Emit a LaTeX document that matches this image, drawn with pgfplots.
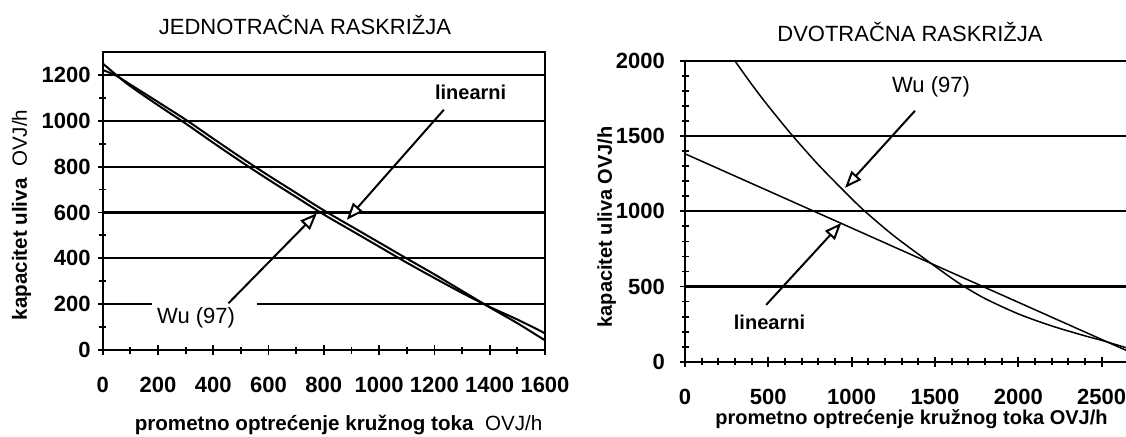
\documentclass[border=0pt]{standalone}
\usepackage{pgfplots}
\pgfplotsset{compat=1.18}
\usepackage{fontspec}
\setmainfont{Liberation Sans}
\usetikzlibrary{arrows.meta}
\newcommand\tlf{\fontsize{11}{12}\selectfont\bfseries}
\pgfplotsset{
 mystyle/.style={
  scale only axis, anchor=south west, enlargelimits=false,
  axis line style={black, line width=1.1pt},
  ymajorgrids, major grid style={black, line width=1.1pt},
  tick align=center, tick style={black, line width=0.9pt},
  major tick length=5pt, minor tick length=3.5pt,
  tick pos=left,
  ticklabel style={font=\tlf},
  xticklabel style={anchor=center, yshift=-15pt},
  /pgf/number format/assume math mode=true,
  /pgf/number format/set thousands separator={},
 },
 curve/.style={black, line width=1pt, smooth, tension=0.5},
}
\tikzset{arr/.style={black, line width=1pt, -{Triangle[fill=white, length=8.5pt, width=6.5pt]}}}
\begin{document}
\begin{tikzpicture}
\useasboundingbox (0,0) rectangle (563pt,218pt);
% ---------- left ----------
\begin{axis}[mystyle, at={(51.35pt,43pt)}, width=221.15pt, height=149pt,
  xmin=0, xmax=1600, ymin=0, ymax=1300,
  xtick={0,200,...,1600}, minor x tick num=1,
  ytick={0,200,...,1200}, minor y tick num=1]
\addplot[curve] coordinates {(0,1250) (50,1199) (100,1151) (200,1068) (300,988) (400,904) (500,822) (600,743) (700,667) (800,591) (900,521) (1000,451) (1100,381) (1200,314) (1300,249) (1400,188) (1500,133) (1600,73)};
\addplot[curve] coordinates {(0,1222) (50,1196) (100,1158) (200,1082) (300,1005) (400,922) (500,840) (600,761) (700,685) (800,609) (900,539) (1000,469) (1100,399) (1200,330) (1300,258) (1400,186) (1500,117) (1600,42)};
\fill[white] (axis cs:177,188) rectangle (axis cs:558,212);
\draw[arr] (axis cs:1234,1048) -- (axis cs:883,568);
\draw[arr] (axis cs:455,204) -- (axis cs:775,597);
\node[font=\bfseries\fontsize{10}{12}\selectfont, inner sep=0pt] at (axis cs:1331,1124) {linearni};
\node[font=\fontsize{11}{13}\selectfont, inner sep=0pt] at (axis cs:338,142) {Wu (97)};
\end{axis}
% ---------- right ----------
\begin{axis}[mystyle, at={(342.5pt,37.15pt)}, width=220.83pt, height=150.35pt,
  axis lines=left, axis line style={-},
  xmin=0, xmax=2650, ymin=0, ymax=2000,
  xtick={0,500,...,2500}, minor x tick num=4,
  ytick={0,500,...,2000}, minor y tick num=4,
  yticklabel style={xshift=-4pt}]
\addplot[curve, line width=0.75pt] coordinates {(300,2000) (400,1845) (500,1700) (640,1510) (800,1310) (950,1140) (1070,1010) (1250,840) (1450,675) (1600,555) (1660,510) (1800,420) (2000,318) (2200,238) (2400,172) (2500,142) (2650,92)};
\addplot[black, line width=0.75pt] coordinates {(0,1383) (500,1136) (1000,889) (1500,642) (2000,395) (2500,148) (2650,74)};
\draw[arr] (axis cs:1380,1669) -- (axis cs:960,1156);
\draw[arr] (axis cs:487,378) -- (axis cs:938,923);
\node[font=\fontsize{11}{13}\selectfont, inner sep=0pt] at (axis cs:1476,1831) {Wu (97)};
\node[font=\bfseries\fontsize{10}{12}\selectfont, inner sep=0pt] at (axis cs:507,265) {linearni};
\end{axis}
% ---------- titles and labels ----------
\node[font=\fontsize{11}{13}\selectfont, inner sep=0pt] at (152.5pt,205.3pt) {JEDNOTRAČNA RASKRIŽJA};
\node[font=\fontsize{11}{13}\selectfont, inner sep=0pt] at (455pt,201.8pt) {DVOTRAČNA RASKRIŽJA};
\node[rotate=90, font=\fontsize{10.3}{12}\selectfont, inner sep=0pt] at (10.75pt,110.5pt) {\textbf{kapacitet uliva}\hspace{0.55em}OVJ/h};
\node[rotate=90, font=\fontsize{10}{12}\selectfont\bfseries, inner sep=0pt] at (303.3pt,104.6pt) {kapacitet uliva OVJ/h};
\node[font=\fontsize{10.3}{12}\selectfont, inner sep=0pt] at (169.25pt,5.4pt) {\textbf{prometno optrećenje kružnog toka}\hspace{0.55em}OVJ/h};
\node[font=\fontsize{10}{12}\selectfont\bfseries, inner sep=0pt] at (455.75pt,8.5pt) {prometno optrećenje kružnog toka OVJ/h};
\end{tikzpicture}
\end{document}
